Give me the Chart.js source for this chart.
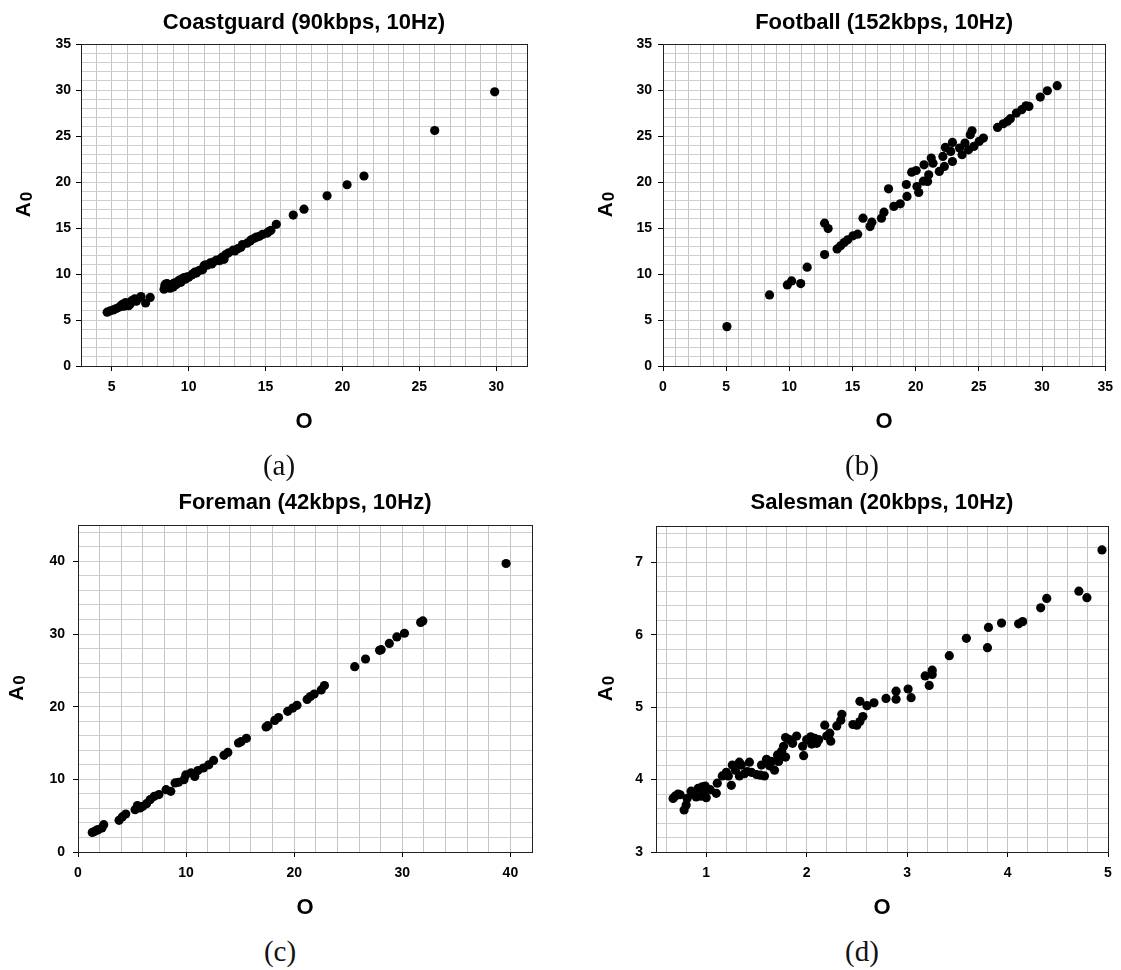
<!DOCTYPE html>
<html lang="en">
<head>
    <meta charset="UTF-8">
    <title>A0 vs O scatter plots</title>
    <script src="https://cdn.jsdelivr.net/npm/chart.js"></script>
    <style>
        body {
            margin: 0;
            background: #fff;
            width: 1121px;
            height: 970px;
            position: relative;
            overflow: hidden;
        }
        canvas {
            position: absolute;
        }
        .caption {
            position: absolute;
            font-family: "Liberation Serif", "DejaVu Serif", serif;
            font-size: 29px;
            color: #111;
            transform: translate(-50%, -50%);
            white-space: nowrap;
        }
    </style>
</head>
<body>
    <canvas id="chartA" width="560" height="440" style="left:0;top:0"></canvas>
    <canvas id="chartB" width="561" height="440" style="left:560px;top:0"></canvas>
    <canvas id="chartC" width="560" height="440" style="left:0;top:480px"></canvas>
    <canvas id="chartD" width="561" height="440" style="left:560px;top:480px"></canvas>

    <div class="caption" style="left:279px;top:465px">(a)</div>
    <div class="caption" style="left:862px;top:465px">(b)</div>
    <div class="caption" style="left:280px;top:951px">(c)</div>
    <div class="caption" style="left:862px;top:951px">(d)</div>

    <script>
        // ---- data ----
        const titles = ['Coastguard (90kbps, 10Hz)', 'Football (152kbps, 10Hz)',
                        'Foreman (42kbps, 10Hz)', 'Salesman (20kbps, 10Hz)'];
        const xTitle = 'O';

        const coastguardO = [4.7, 4.9, 5.1, 5.3, 5.5, 5.7, 5.8, 5.9, 6.0, 6.1, 6.3, 6.5, 6.6, 6.9, 7.2, 7.5,
            8.4, 8.45, 8.5, 8.6, 8.8, 8.9, 9.0, 9.1, 9.2, 9.3, 9.4, 9.5, 9.6, 9.8, 9.9, 10.0,
            10.2, 10.3, 10.4, 10.5, 10.7, 10.9, 11.0, 11.1, 11.2, 11.4, 11.6, 11.8, 12.0, 12.1,
            12.2, 12.4, 12.6, 12.9, 13.2, 13.5, 13.8, 14.0, 14.1, 14.3, 14.6, 14.8, 15.1, 15.35,
            15.7, 16.8, 17.5, 19.0, 20.3, 21.4, 26.0, 29.9,
            8.5, 8.7, 9.0, 9.7, 10.6, 11.5, 12.3, 13.0, 13.4, 14.4, 15.2, 6.2, 5.6];
        const coastguardA0 = [5.85, 6.0, 6.1, 6.25, 6.4, 6.7, 6.5, 6.9, 6.6, 6.55, 7.1, 7.3, 7.05, 7.55, 6.85, 7.45,
            8.35, 8.75, 8.55, 8.95, 8.45, 8.8, 8.6, 9.05, 8.85, 9.2, 9.35, 9.1, 9.5, 9.45, 9.7, 9.65,
            9.9, 10.05, 10.2, 10.1, 10.4, 10.45, 10.9, 11.0, 10.95, 11.2, 11.3, 11.5, 11.45, 11.7,
            11.85, 12.1, 12.3, 12.6, 12.75, 13.2, 13.35, 13.6, 13.75, 13.9, 14.1, 14.3, 14.45, 14.75,
            15.4, 16.4, 17.05, 18.5, 19.7, 20.65, 25.6, 29.8,
            8.9, 8.6, 8.95, 9.6, 10.3, 11.1, 11.6, 12.5, 12.9, 14.0, 14.6, 6.75, 6.55];

        const footballO = [5.06, 8.43, 9.84, 10.18, 10.9, 11.41, 12.79, 12.79, 13.07, 13.78, 14.06, 14.34,
            14.62, 15.04, 15.41, 15.83, 16.39, 16.53, 17.29, 17.49, 17.85, 18.27, 18.78, 19.26,
            19.31, 19.68, 20.04, 20.1, 20.24, 20.61, 20.66, 20.94, 21.03, 21.23, 21.37, 21.87,
            22.15, 22.27, 22.35, 22.77, 22.91, 22.91, 23.47, 23.67, 23.9, 24.18, 24.32, 24.46,
            24.6, 25.02, 25.36, 26.48, 26.93, 27.27, 27.49, 27.97, 28.39, 28.73, 28.96, 29.86,
            30.42, 31.2];
        const footballA0 = [4.28, 7.73, 8.81, 9.25, 8.96, 10.74, 12.11, 15.52, 14.94, 12.73, 13.06, 13.42,
            13.71, 14.15, 14.33, 16.07, 15.16, 15.63, 16.07, 16.72, 19.26, 17.34, 17.63, 19.73,
            18.43, 21.07, 21.25, 19.51, 18.86, 20.09, 21.87, 20.06, 20.78, 22.6, 22.05, 21.15,
            22.78, 21.69, 23.76, 23.32, 24.3, 22.23, 23.69, 22.96, 24.23, 23.5, 25.14, 25.57,
            23.87, 24.41, 24.77, 25.93, 26.33, 26.59, 26.88, 27.49, 27.86, 28.29, 28.22, 29.23,
            29.92, 30.47];

        const foremanO = [1.32, 1.55, 1.72, 1.88, 2.21, 2.38, 3.8, 4.09, 4.42, 5.28, 5.5, 5.74, 6.0,
            6.34, 6.67, 7.06, 7.49, 8.15, 8.58, 8.98, 9.3, 9.8, 9.97, 10.46, 10.8, 11.1, 11.6,
            12.1, 12.54, 13.5, 13.86, 14.85, 15.08, 15.58, 17.4, 17.56, 18.2, 18.55, 19.4,
            19.87, 20.26, 21.2, 21.5, 21.85, 22.5, 22.8, 25.6, 26.6, 27.9, 28.05, 28.8, 29.5,
            30.2, 31.7, 31.9, 39.6];
        const foremanA0 = [2.7, 2.84, 3.0, 3.07, 3.3, 3.76, 4.36, 4.82, 5.23, 5.83, 6.4, 6.06, 6.28,
            6.65, 7.2, 7.66, 7.9, 8.58, 8.35, 9.5, 9.6, 9.95, 10.6, 10.9, 10.4, 11.2, 11.56,
            12.0, 12.6, 13.3, 13.7, 15.0, 15.18, 15.64, 17.2, 17.39, 18.1, 18.5, 19.36,
            19.8, 20.18, 21.0, 21.4, 21.74, 22.3, 22.9, 25.5, 26.56, 27.75, 27.84, 28.7, 29.6,
            30.1, 31.6, 31.8, 39.7];

        const salesmanO = [0.67, 0.69, 0.74, 0.78, 0.8, 0.81, 0.85, 0.88, 0.92, 0.95, 0.97, 0.99,
            1.04, 1.1, 1.11, 1.16, 1.22, 1.25, 1.26, 1.29, 1.33, 1.33, 1.38, 1.41, 1.43, 1.5,
            1.54, 1.55, 1.6, 1.63, 1.68, 1.71, 1.72, 1.75, 1.77, 1.79, 1.79, 1.86, 1.9, 1.96,
            1.97, 2.0, 2.04, 2.05, 2.08, 2.12, 2.18, 2.2, 2.23, 2.24, 2.3, 2.34, 2.35, 2.46,
            2.5, 2.53, 2.53, 2.56, 2.6, 2.67, 2.79, 2.89, 2.89, 3.01, 3.04, 3.18, 3.22, 3.25,
            3.25, 3.42, 3.59, 3.8, 3.81, 3.94, 4.11, 4.15, 4.33, 4.39, 4.71, 4.79, 4.94,
            1.0, 0.96, 1.2, 1.45, 1.65, 1.83, 2.1, 0.72, 0.9, 1.35, 1.58];
        const salesmanA0 = [3.74, 3.77, 3.79, 3.58, 3.65, 3.74, 3.84, 3.79, 3.88, 3.77, 3.84, 3.91,
            3.86, 3.81, 3.95, 4.05, 4.05, 3.92, 4.2, 4.13, 4.05, 4.24, 4.08, 4.11, 4.24, 4.07,
            4.06, 4.2, 4.28, 4.19, 4.13, 4.34, 4.25, 4.39, 4.46, 4.31, 4.58, 4.5, 4.6, 4.46,
            4.33, 4.55, 4.59, 4.49, 4.57, 4.55, 4.75, 4.6, 4.64, 4.53, 4.74, 4.82, 4.9, 4.76,
            4.75, 4.8, 5.08, 4.87, 5.02, 5.06, 5.12, 5.22, 5.11, 5.25, 5.13, 5.43, 5.3, 5.51,
            5.45, 5.71, 5.95, 5.82, 6.1, 6.16, 6.15, 6.18, 6.37, 6.5, 6.6, 6.51, 7.17,
            3.75, 3.9, 4.1, 4.1, 4.25, 4.55, 4.5, 3.8, 3.76, 4.2, 4.05];

        // ---- panel layout (chart area inside each canvas) ----
        const panels = [
            { id: 'chartA', title: titles[0], o: coastguardO, a0: coastguardA0,
              x: { min: 3, max: 32, step: 1, major: 5 }, y: { min: 0, max: 35, step: 1, major: 5 },
              left: 81, top: 44, right: 527, bottom: 366, yTitleX: 24, yPad: 5 },
            { id: 'chartB', title: titles[1], o: footballO, a0: footballA0,
              x: { min: 0, max: 35, step: 1, major: 5 }, y: { min: 0, max: 35, step: 1, major: 5 },
              left: 103, top: 44, right: 548, bottom: 366, yTitleX: 46, yPad: 6 },
            { id: 'chartC', title: titles[2], o: foremanO, a0: foremanA0,
              x: { min: 0, max: 42, step: 2, major: 10 }, y: { min: 0, max: 45, step: 2, major: 10 },
              left: 78, top: 45, right: 532, bottom: 372, yTitleX: 17, yPad: 8 },
            { id: 'chartD', title: titles[3], o: salesmanO, a0: salesmanA0,
              x: { min: 0.5, max: 5, step: 0.2, major: 1 }, y: { min: 3, max: 7.5, step: 0.2, major: 1 },
              left: 96, top: 46, right: 548, bottom: 372, yTitleX: 46, yPad: 8 }
        ];

        const FONT = '"Liberation Sans", Arial, sans-serif';

        function isMajor(v, every) {
            const r = v / every;
            return Math.abs(r - Math.round(r)) < 1e-6;
        }

        function gridValues(min, max, step) {
            const vals = [];
            const k0 = Math.ceil(min / step - 1e-9);
            const k1 = Math.floor(max / step + 1e-9);
            for (let k = k0; k <= k1; k++) {
                vals.push(Math.round(k * step * 1e6) / 1e6);
            }
            return vals;
        }

        function axis(cfg, isX, p) {
            return {
                type: 'linear',
                min: cfg.min,
                max: cfg.max,
                afterBuildTicks: (scale) => {
                    scale.ticks = gridValues(cfg.min, cfg.max, cfg.step).map(v => ({ value: v }));
                },
                afterFit: (scale) => {
                    if (isX) scale.height = scale.chart.height - p.bottom;
                    else scale.width = p.left;
                },
                grid: {
                    color: isX ? '#c4c4c4' : '#cecece',
                    lineWidth: 1,
                    tickLength: 5,
                    tickColor: (ctx) => (ctx.tick && isMajor(ctx.tick.value, cfg.major)) ? '#000' : 'rgba(0,0,0,0)'
                },
                border: { display: true, color: '#000', width: 1 },
                ticks: {
                    autoSkip: false,
                    maxRotation: 0,
                    padding: isX ? 8 : p.yPad,
                    color: '#000',
                    font: { family: FONT, size: 14, weight: 'bold' },
                    callback: (v) => isMajor(v, cfg.major) ? String(Math.round(v)) : ''
                }
            };
        }

        // frame, title and axis titles
        const decor = {
            id: 'decor',
            afterDraw(chart, args, opts) {
                const { ctx, chartArea: a } = chart;
                const cx = (a.left + a.right) / 2;
                ctx.save();
                ctx.strokeStyle = '#222';
                ctx.lineWidth = 1;
                ctx.strokeRect(Math.round(a.left) + 0.5, Math.round(a.top) + 0.5,
                               Math.round(a.right - a.left), Math.round(a.bottom - a.top));

                ctx.fillStyle = '#000';
                ctx.textAlign = 'center';
                ctx.textBaseline = 'middle';
                ctx.font = 'bold 22px ' + FONT;
                ctx.fillText(opts.title, cx, 23);

                ctx.font = 'bold 22px ' + FONT;
                ctx.fillText(xTitle, cx, a.bottom + 56);

                // y title: A with subscript-like 0
                ctx.translate(opts.yTitleX, (a.top + a.bottom) / 2);
                ctx.rotate(-Math.PI / 2);
                ctx.textAlign = 'left';
                ctx.font = 'bold 21px ' + FONT;
                const wA = ctx.measureText('A').width;
                ctx.font = 'bold 17px ' + FONT;
                const w0 = ctx.measureText('0').width;
                const start = -(wA + w0) / 2;
                ctx.font = 'bold 21px ' + FONT;
                ctx.fillText('A', start, 0);
                ctx.font = 'bold 17px ' + FONT;
                ctx.fillText('0', start + wA + 1, 3);
                ctx.restore();
            }
        };

        panels.forEach(p => {
            const canvas = document.getElementById(p.id);
            new Chart(canvas.getContext('2d'), {
                type: 'scatter',
                data: {
                    datasets: [{
                        label: p.title,
                        data: p.o.map((v, i) => ({ x: v, y: p.a0[i] })),
                        pointRadius: 4.6,
                        pointBorderWidth: 0,
                        backgroundColor: '#000',
                        borderColor: '#000'
                    }]
                },
                options: {
                    responsive: false,
                    animation: false,
                    events: [],
                    layout: {
                        padding: { left: 0, top: p.top, right: canvas.width - p.right, bottom: 0 }
                    },
                    scales: {
                        x: axis(p.x, true, p),
                        y: axis(p.y, false, p)
                    },
                    plugins: {
                        legend: { display: false },
                        tooltip: { enabled: false },
                        decor: { title: p.title, yTitleX: p.yTitleX }
                    }
                },
                plugins: [decor]
            });
        });
    </script>
</body>
</html>
